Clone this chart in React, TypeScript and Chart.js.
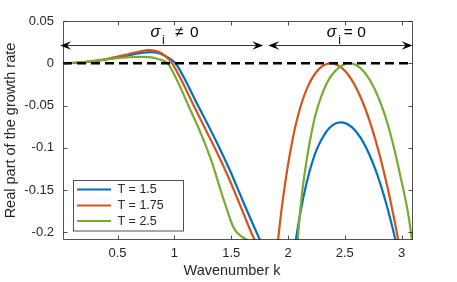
import { useEffect, useRef } from "react";
import { Chart, registerables } from "chart.js";
Chart.register(...registerables);

// ---- axes ----
const K_MIN = 0.02;
const K_MAX = 3.1;
const V_MIN = -0.209;
const V_MAX = 0.05;
const xTicks = [0.5, 1, 1.5, 2, 2.5, 3];
const yTicks = [-0.2, -0.15, -0.1, -0.05, 0, 0.05];
const xTitle = "Wavenumber k";
const yTitle = "Real part of the growth rate";

// ---- series ----
const seriesNames = ["T = 1.5", "T = 1.75", "T = 2.5"];
const seriesColors = ["#0072BD", "#D95319", "#77AC30"];

// T = 1.5 (first branch, second branch)
const kBlue1 = [0.02, 0.1, 0.2, 0.3, 0.4, 0.5, 0.6, 0.7, 0.79, 0.87, 0.95, 1.01, 1.1, 1.2, 1.3, 1.4, 1.5, 1.6, 1.7, 1.76, 1.8];
const vBlue1 = [0, 0.0003, 0.0011, 0.0025, 0.0045, 0.0068, 0.0095, 0.012, 0.0132, 0.0115, 0.0062, 0, -0.021, -0.048, -0.074, -0.101, -0.13, -0.162, -0.193, -0.211, -0.223];
const kBlue2 = [2.044, 2.067, 2.114, 2.164, 2.214, 2.264, 2.364, 2.464, 2.564, 2.664, 2.764, 2.864, 2.949, 2.984];
const vBlue2 = [-0.2326, -0.2107, -0.1731, -0.1413, -0.1168, -0.0986, -0.0765, -0.0698, -0.0758, -0.0938, -0.1238, -0.1658, -0.2108, -0.232];

// T = 1.75
const kRed1 = [0.02, 0.1, 0.2, 0.3, 0.4, 0.5, 0.6, 0.7, 0.78, 0.86, 0.93, 0.98, 1.07, 1.17, 1.27, 1.37, 1.47, 1.57, 1.67, 1.72, 1.76];
const vRed1 = [0, 0.0003, 0.0012, 0.0028, 0.005, 0.0078, 0.011, 0.0142, 0.0155, 0.0135, 0.0075, 0, -0.022, -0.05, -0.077, -0.104, -0.133, -0.165, -0.198, -0.213, -0.226];
const kRed2 = [1.891, 1.911, 1.946, 1.986, 2.036, 2.096, 2.176, 2.276, 2.376, 2.476, 2.576, 2.676, 2.776, 2.876, 2.976, 2.996];
const vRed2 = [-0.237, -0.2107, -0.17, -0.132, -0.093, -0.058, -0.027, -0.0063, 0, -0.0058, -0.0232, -0.0523, -0.0935, -0.147, -0.213, -0.228];

// T = 2.5
const kGreen1 = [0.02, 0.1, 0.2, 0.3, 0.4, 0.5, 0.6, 0.7, 0.78, 0.86, 0.94, 1.03, 1.13, 1.23, 1.33, 1.4, 1.46, 1.52, 1.55, 1.66, 1.76];
const vGreen1 = [0, 0.0004, 0.0015, 0.003, 0.0046, 0.006, 0.0071, 0.0076, 0.0072, 0.0048, 0, -0.022, -0.052, -0.082, -0.117, -0.147, -0.172, -0.194, -0.2, -0.2107, -0.2197];
const kGreen2 = [2.07, 2.085, 2.1, 2.126, 2.16, 2.193, 2.24, 2.34, 2.44, 2.54, 2.64, 2.74, 2.84, 2.92, 3.0, 3.06, 3.1];
const vGreen2 = [-0.235, -0.211, -0.185, -0.151, -0.118, -0.092, -0.062, -0.024, -0.006, 0, -0.006, -0.0245, -0.0564, -0.093, -0.14, -0.18, -0.218];

// zero reference line
const zeroK = [K_MIN, K_MAX];
const zeroV = [0, 0];

// annotation arrows (data units)
const arrowV = 0.0214;
const arrowA = [-0.005, 1.782];
const arrowB = [1.826, 3.096];
const labelA = { sigma: "σ", sub: "i", rest: "≠", zero: "0", k: 0.79 };
const labelB = { sigma: "σ", sub: "i", rest: "=", zero: "0", k: 2.34 };

const FONT = "'Liberation Sans', Arial, Helvetica, sans-serif";
const AXIS_COLOR = "#262626";

function pts(k1: number[], v1: number[], k2: number[], v2: number[]) {
  const a = k1.map((k, i) => ({ x: k, y: v1[i] as number | null }));
  const gap = { x: (k1[k1.length - 1] + k2[0]) / 2, y: null as number | null };
  const b = k2.map((k, i) => ({ x: k, y: v2[i] as number | null }));
  return [...a, gap, ...b];
}

function arrowHead(ctx: CanvasRenderingContext2D, tipX: number, y: number, dir: number) {
  const L = 11;
  const W = 4.2;
  ctx.beginPath();
  ctx.moveTo(tipX, y);
  ctx.lineTo(tipX - dir * L, y - W);
  ctx.lineTo(tipX - dir * L * 0.62, y);
  ctx.lineTo(tipX - dir * L, y + W);
  ctx.closePath();
  ctx.fill();
}

const decor = {
  id: "decor",
  afterDraw(chart: any) {
    const ctx: CanvasRenderingContext2D = chart.ctx;
    const xs = chart.scales.x;
    const ys = chart.scales.y;
    const ca = chart.chartArea;
    const L = Math.round(ca.left) + 0.5;
    const R = Math.round(ca.right) - 0.5;
    const T = Math.round(ca.top) + 0.5;
    const B = Math.round(ca.bottom) - 0.5;
    ctx.save();
    // box
    ctx.strokeStyle = "rgba(38,38,38,0.8)";
    ctx.lineWidth = 1;
    ctx.beginPath();
    ctx.rect(L, T, R - L, B - T);
    ctx.stroke();
    // ticks (inward)
    ctx.beginPath();
    for (const t of xTicks) {
      const px = Math.round(xs.getPixelForValue(t)) + 0.5;
      ctx.moveTo(px, B);
      ctx.lineTo(px, B - 4);
      ctx.moveTo(px, T);
      ctx.lineTo(px, T + 4);
    }
    for (const t of yTicks) {
      const py = Math.round(ys.getPixelForValue(t)) + 0.5;
      ctx.moveTo(L, py);
      ctx.lineTo(L + 4, py);
      ctx.moveTo(R, py);
      ctx.lineTo(R - 4, py);
    }
    ctx.stroke();

    // titles
    ctx.fillStyle = AXIS_COLOR;
    ctx.font = `14.5px ${FONT}`;
    ctx.textAlign = "center";
    ctx.textBaseline = "alphabetic";
    ctx.fillText(xTitle, (ca.left + ca.right) / 2 - 6, 275);
    ctx.save();
    ctx.translate(14.5, (ca.top + ca.bottom) / 2);
    ctx.rotate(-Math.PI / 2);
    ctx.fillText(yTitle, 0, 0);
    ctx.restore();

    // arrows
    ctx.strokeStyle = "#000";
    ctx.fillStyle = "#000";
    ctx.lineWidth = 0.8;
    const ay = Math.round(ys.getPixelForValue(arrowV)) + 0.5;
    for (const [a, b] of [arrowA, arrowB]) {
      const x1 = xs.getPixelForValue(a);
      const x2 = xs.getPixelForValue(b);
      ctx.beginPath();
      ctx.moveTo(x1 + 4, ay);
      ctx.lineTo(x2 - 4, ay);
      ctx.stroke();
      arrowHead(ctx, x1, ay, -1);
      arrowHead(ctx, x2, ay, 1);
    }

    // annotation labels
    const drawLabel = (lab: any, gapRest: number, gapZero: number) => {
      const x0 = xs.getPixelForValue(lab.k);
      const base = ay - 9;
      ctx.textAlign = "left";
      ctx.textBaseline = "alphabetic";
      ctx.fillStyle = "#000";
      ctx.font = `italic 16px ${FONT}`;
      ctx.fillText(lab.sigma, x0, base);
      ctx.font = `12px ${FONT}`;
      ctx.fillText(lab.sub, x0 + 11.5, base + 7);
      ctx.font = `15.5px ${FONT}`;
      ctx.fillText(lab.rest, x0 + gapRest, base);
      ctx.fillText(lab.zero, x0 + gapZero, base);
    };
    drawLabel(labelA, 24.5, 39.5);
    drawLabel(labelB, 17, 30.5);

    // legend
    const lx = 73.5, ly = 180.5, lw = 110, lh = 50.5;
    ctx.fillStyle = "#fff";
    ctx.fillRect(lx, ly, lw, lh);
    ctx.strokeStyle = "rgba(38,38,38,0.8)";
    ctx.lineWidth = 1;
    ctx.strokeRect(lx, ly, lw, lh);
    const rows = [189.5, 205.5, 221];
    seriesNames.forEach((name, i) => {
      ctx.strokeStyle = seriesColors[i];
      ctx.lineWidth = 2.2;
      ctx.beginPath();
      ctx.moveTo(77, rows[i]);
      ctx.lineTo(111, rows[i]);
      ctx.stroke();
      ctx.fillStyle = AXIS_COLOR;
      ctx.font = `12.5px ${FONT}`;
      ctx.textAlign = "left";
      ctx.textBaseline = "middle";
      ctx.fillText(name, 117.5, rows[i] + 0.5);
    });
    ctx.restore();
  },
};

export default function App() {
  const ref = useRef<HTMLCanvasElement | null>(null);
  useEffect(() => {
    if (!ref.current) return;
    const curves = [
      pts(kBlue1, vBlue1, kBlue2, vBlue2),
      pts(kRed1, vRed1, kRed2, vRed2),
      pts(kGreen1, vGreen1, kGreen2, vGreen2),
    ];
    const datasets: any[] = [
      {
        label: "zero",
        data: zeroK.map((k, i) => ({ x: k, y: zeroV[i] })),
        borderColor: "#000",
        borderWidth: 2.6,
        borderDash: [9, 5],
        pointRadius: 0,
        order: 0,
        clip: 0,
      },
    ];
    curves.forEach((d, i) => {
      datasets.push({
        label: seriesNames[i],
        data: d,
        borderColor: seriesColors[i],
        borderWidth: 2.2,
        pointRadius: 0,
        cubicInterpolationMode: "monotone",
        spanGaps: false,
        order: 3 - i,
        clip: 0,
      });
    });
    const chart = new Chart(ref.current, {
      type: "line",
      data: { datasets },
      options: {
        animation: false,
        responsive: false,
        events: [],
        layout: { padding: { top: 21, right: 44, left: 0, bottom: 0 } },
        plugins: { legend: { display: false }, tooltip: { enabled: false } },
        scales: {
          x: {
            type: "linear",
            min: K_MIN,
            max: K_MAX,
            afterBuildTicks: (axis: any) => {
              axis.ticks = xTicks.map((v) => ({ value: v }));
            },
            afterFit: (axis: any) => {
              axis.height = 42;
            },
            grid: { display: false, drawTicks: false },
            border: { display: false },
            ticks: {
              color: AXIS_COLOR,
              font: { family: FONT, size: 13 },
              padding: 6,
              maxRotation: 0,
              autoSkip: false,
              callback: (v: any) => String(v),
            },
          },
          y: {
            type: "linear",
            min: V_MIN,
            max: V_MAX,
            afterBuildTicks: (axis: any) => {
              axis.ticks = yTicks.map((v) => ({ value: v }));
            },
            afterFit: (axis: any) => {
              axis.width = 63;
            },
            grid: { display: false, drawTicks: false },
            border: { display: false },
            ticks: {
              color: AXIS_COLOR,
              font: { family: FONT, size: 13 },
              padding: 9,
              autoSkip: false,
              callback: (v: any) => String(v),
            },
          },
        },
      },
      plugins: [decor],
    });
    return () => chart.destroy();
  }, []);
  return (
    <div style={{ position: "fixed", left: 0, top: 0, width: 457, height: 282, background: "#fff" }}>
      <canvas ref={ref} width={457} height={282} style={{ display: "block" }} />
    </div>
  );
}
